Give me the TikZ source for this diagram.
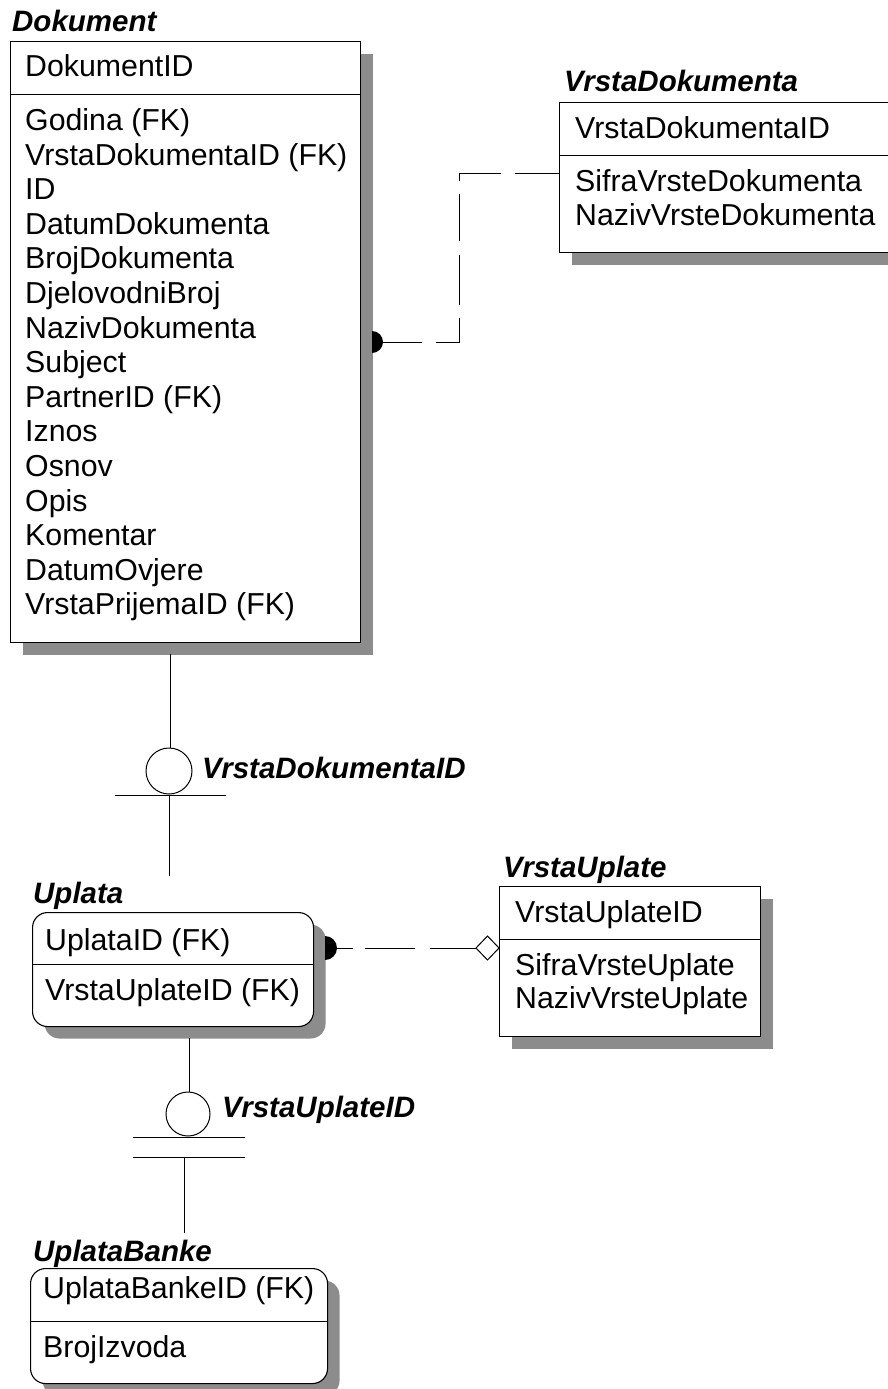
\documentclass[tikz,border=0pt]{standalone}
\usepackage{fontspec}
\setmainfont{Liberation Sans}
\usetikzlibrary{shadows}
\definecolor{shd}{RGB}{140,140,140}
\begin{document}
\begin{tikzpicture}[x=1pt,y=-1pt,
  ent/.style={draw=black, line width=1.1pt, fill=white, inner sep=0pt, anchor=north west,
     drop shadow={shadow xshift=12pt, shadow yshift=-12pt, fill=shd, opacity=1}},
  rent/.style={ent, rounded corners=15pt},
  ttl/.style={anchor=base west, inner sep=0pt, font=\fontsize{29.5}{34}\selectfont\bfseries\itshape},
  attr/.style={anchor=base west, inner sep=0pt, font=\fontsize{30.3}{34}\selectfont},
  sepl/.style={line width=1pt},
  rel/.style={line width=1pt},
  ln/.style={line width=1pt},
  sub/.style={draw, circle, line width=1pt, inner sep=0pt, fill=white}]
\useasboundingbox (0,0) rectangle (888,1389);

% ---------- Dokument ----------
\node[ent, minimum width=350pt, minimum height=601pt] (dok) at (10,41) {};
\draw[sepl] (10,94) -- (360,94);
\node[ttl] (dokT) at (12,32) {Dokument};
\node[attr] (dk) at (25,77) {DokumentID};
\foreach \t [count=\i] in {Godina (FK), VrstaDokumentaID (FK), ID, DatumDokumenta,
  BrojDokumenta, DjelovodniBroj, NazivDokumenta, Subject, PartnerID (FK), Iznos,
  Osnov, Opis, Komentar, DatumOvjere, VrstaPrijemaID (FK)}
  \node[attr] (da\i) at (25,{130.5+(\i-1)*34.6}) {\t};

% ---------- VrstaDokumenta ----------
\node[ent, minimum width=334pt, minimum height=150pt] (vd) at (559,102) {};
\draw[sepl] (559,155) -- (893,155);
\node[ttl] (vdT) at (564,92) {VrstaDokumenta};
\node[attr] (vdk) at (575,138) {VrstaDokumentaID};
\node[attr] (vd1) at (575,191) {SifraVrsteDokumenta};
\node[attr] (vd2) at (575,225) {NazivVrsteDokumenta};

% ---------- Uplata ----------
\node[rent, minimum width=281pt, minimum height=114pt] (upl) at (32,912) {};
\draw[sepl] (32,964) -- (313,964);
\node[ttl] (uplT) at (33,903) {Uplata};
\node[attr] (uk) at (45,950) {UplataID (FK)};
\node[attr] (u1) at (45,1000) {VrstaUplateID (FK)};

% ---------- VrstaUplate ----------
\node[ent, minimum width=261pt, minimum height=150pt] (vu) at (499,886) {};
\draw[sepl] (499,939) -- (760,939);
\node[ttl] (vuT) at (503,877) {VrstaUplate};
\node[attr] (vuk) at (515,922) {VrstaUplateID};
\node[attr] (vu1) at (515,975) {SifraVrsteUplate};
\node[attr] (vu2) at (515,1008) {NazivVrsteUplate};

% ---------- UplataBanke ----------
\node[rent, minimum width=297pt, minimum height=115pt] (ub) at (30,1268) {};
\draw[sepl] (30,1321) -- (327,1321);
\node[ttl] (ubT) at (33,1261) {UplataBanke};
\node[attr] (ubk) at (43,1298) {UplataBankeID (FK)};
\node[attr] (ub1) at (43,1357) {BrojIzvoda};

% ---------- Relationship Dokument -- VrstaDokumenta ----------
\coordinate (r1s) at (372,342);
\coordinate (r1k1) at (459,342);
\coordinate (r1k2) at (459,173);
\draw[rel, dash pattern=on 50pt off 14pt on 47pt off 13pt]
  (r1s) -- (r1k1) -- (r1k2) -- (r1k2 -| vd.west);
\begin{scope}
  \clip (372,320) rectangle (400,365);
  \fill (r1s) circle[radius=11pt];
\end{scope}

% ---------- Relationship Uplata -- VrstaUplate ----------
\coordinate (r2s) at (325,948);
\coordinate (r2d) at (476,948);
\draw[rel, dash pattern=on 28pt off 12pt on 50pt off 15pt on 80pt off 1pt] (r2s) -- (r2d);
\begin{scope}
  \clip (325,930) rectangle (345,966);
  \fill (r2s) circle[radius=12pt];
\end{scope}
\draw[ln, fill=white] (r2d) -- ++(11.5,-12) -- (vu.west |- r2d) -- ++(-11.5,12) -- cycle;

% ---------- Subtype Dokument -> Uplata ----------
\coordinate (s1top) at (170,654);
\node[sub, minimum size=46pt] (c1) at (169,771) {};
\coordinate (b1l) at (115,795);
\coordinate (b1r) at (226,795);
\coordinate (s1bot) at (169,876);
\draw[ln] (s1top) -- (c1.north -| s1top);
\draw[ln] (b1l) -- (b1r);
\draw[ln] (c1.south) -- (s1bot);
\node[ttl] (l1) at (202,778) {VrstaDokumentaID};

% ---------- Subtype Uplata -> UplataBanke ----------
\coordinate (s2top) at (189,1038);
\node[sub, minimum size=44pt] (c2) at (188,1114) {};
\coordinate (b2l) at (133,1137);
\coordinate (b2r) at (245,1137);
\coordinate (b3l) at (133,1157);
\coordinate (b3r) at (245,1157);
\coordinate (s2a) at (184,1157);
\coordinate (s2bot) at (184,1233);
\draw[ln] (s2top) -- (c2.north -| s2top);
\draw[ln] (b2l) -- (b2r);
\draw[ln] (b3l) -- (b3r);
\draw[ln] (s2a) -- (s2bot);
\node[ttl] (l2) at (222,1117) {VrstaUplateID};
\end{tikzpicture}
\end{document}
